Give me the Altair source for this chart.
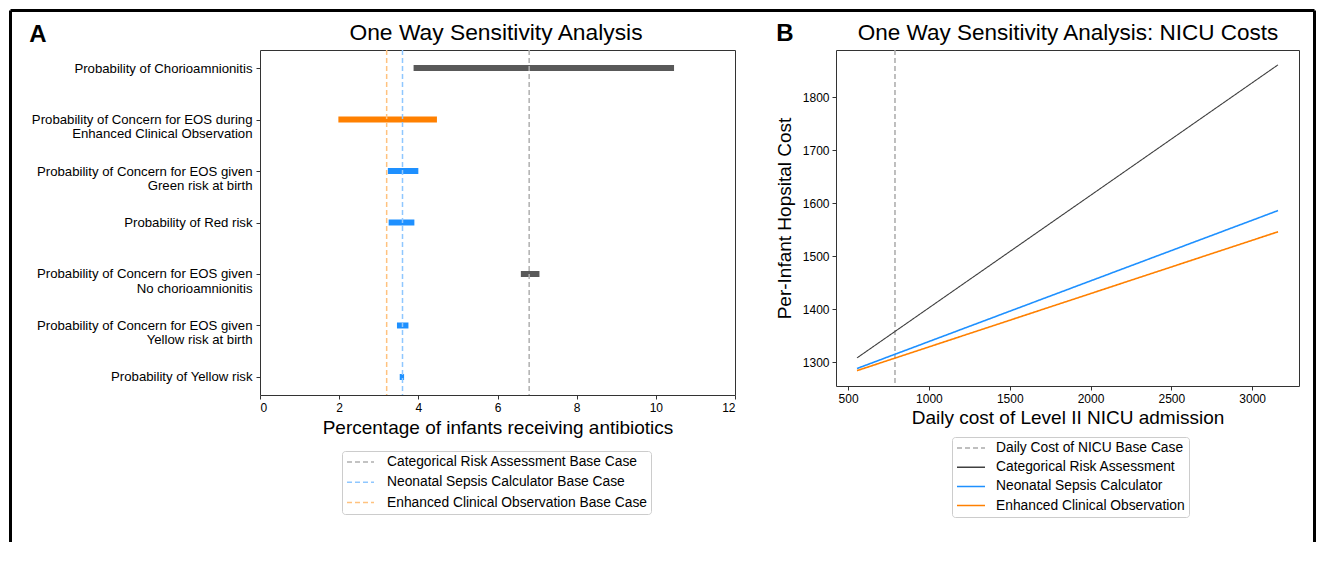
import altair as alt
import pandas as pd

FONT = "Liberation Sans"

# ---------------- Panel A data ----------------
params = [
    "Probability of Chorioamnionitis",
    "Probability of Concern for EOS during|Enhanced Clinical Observation",
    "Probability of Concern for EOS given|Green risk at birth",
    "Probability of Red risk",
    "Probability of Concern for EOS given|No chorioamnionitis",
    "Probability of Concern for EOS given|Yellow risk at birth",
    "Probability of Yellow risk",
]
low = [3.88, 1.98, 3.23, 3.25, 6.59, 3.46, 3.53]
high = [10.46, 4.47, 4.00, 3.90, 7.06, 3.75, 3.64]
bar_colors = ["#595959", "#ff8000", "#1e90ff", "#1e90ff", "#595959", "#1e90ff", "#1e90ff"]

base_cases = [
    "Categorical Risk Assessment Base Case",
    "Neonatal Sepsis Calculator Base Case",
    "Enhanced Clinical Observation Base Case",
]
base_values = [6.8, 3.6, 3.2]
base_colors = ["#b0b0b0", "#8fc7ff", "#ffc27f"]

x_ticks_a = [0, 2, 4, 6, 8, 10, 12]
title_a = "One Way Sensitivity Analysis"
xtitle_a = "Percentage of infants receiving antibiotics"

# ---------------- Panel B data ----------------
cost_x = [555, 3160]
series_b = ["Categorical Risk Assessment", "Neonatal Sepsis Calculator", "Enhanced Clinical Observation"]
cra_cost = [1308, 1861]
nsc_cost = [1288, 1586]
eco_cost = [1284, 1546]
base_cost_label = "Daily Cost of NICU Base Case"
base_cost = [790]
legend_b = [base_cost_label] + series_b
legend_b_colors = ["#aaaaaa", "#404040", "#1e90ff", "#ff8000"]
legend_b_dash = [[5, 3], [1, 0], [1, 0], [1, 0]]
line_widths = [1.1, 1.6, 1.6]
x_ticks_b = [500, 1000, 1500, 2000, 2500, 3000]
y_ticks_b = [1300, 1400, 1500, 1600, 1700, 1800]
title_b = "One Way Sensitivity Analysis: NICU Costs"
xtitle_b = "Daily cost of Level II NICU admission"
ytitle_b = "Per-Infant Hopsital Cost"

# ---------------- tables ----------------
df_bars = pd.DataFrame({"param": params, "low": low, "high": high, "col": bar_colors})
df_base = pd.DataFrame({"case": base_cases, "value": base_values})

rows = []
for name, vals, w in zip(series_b, [cra_cost, nsc_cost, eco_cost], line_widths):
    for cx, cy in zip(cost_x, vals):
        rows.append({"series": name, "cost": cx, "value": cy, "w": w})
df_lines = pd.DataFrame(rows)
df_bcost = pd.DataFrame({"series": [base_cost_label] * len(base_cost), "cost": base_cost})

one = pd.DataFrame({"k": [0]})

WA, HA = 475, 345
WB, HB = 463, 336
GAP = 101          # distance between the two plot areas
FR_L, FR_T, FR_B = -249.5, -39.5, 492   # outer frame (relative to panel A plot area)
FR_R = 1054.5


def frame_rule(x, y, x2=None, y2=None):
    enc = {"x": alt.value(x), "y": alt.value(y)}
    if x2 is not None:
        enc["x2"] = alt.value(x2)
    if y2 is not None:
        enc["y2"] = alt.value(y2)
    return alt.Chart(one).mark_rule(color="black", strokeWidth=3, strokeCap="butt").encode(**enc)


def text_mark(txt, x, y, size, weight="normal"):
    return alt.Chart(pd.DataFrame({"t": [txt]})).mark_text(
        font=FONT, fontSize=size, fontWeight=weight, color="black",
        align="center", baseline="alphabetic"
    ).encode(text="t:N", x=alt.value(x), y=alt.value(y))


# ---------------- Panel A ----------------
yA = alt.Y(
    "param:N", sort=params,
    scale=alt.Scale(type="point", padding=0.35),
    axis=alt.Axis(title=None, labelExpr="split(datum.label, '|')", labelFontSize=13.2,
                  labelLineHeight=14.3, tickSize=4, labelPadding=4, domain=False, grid=False,
                  labelLimit=400),
)
xA_axis = alt.Axis(values=x_ticks_a, title=xtitle_a, titleFontSize=19, titlePadding=5,
                   labelFontSize=12, tickSize=4, labelPadding=3, domain=False, grid=False)

bars = alt.Chart(df_bars).mark_bar(size=6).encode(
    y=yA,
    x=alt.X("low:Q", scale=alt.Scale(domain=[0, 12], nice=False), axis=xA_axis),
    x2="high:Q",
    fill=alt.Fill("col:N", scale=None),
)

base_rules = alt.Chart(df_base).mark_rule(strokeWidth=1.5, strokeDash=[5, 3]).encode(
    x=alt.X("value:Q", title=xtitle_a),
    color=alt.Color(
        "case:N",
        scale=alt.Scale(domain=base_cases, range=base_colors),
        legend=alt.Legend(
            orient="none", legendX=82, legendY=401, title=None, symbolType="stroke",
            symbolDash=[5, 3], symbolStrokeWidth=1.5, symbolSize=729, clipHeight=14,
            rowPadding=6.3, padding=4, labelOffset=12, labelFontSize=13.8, labelLimit=500,
            strokeColor="#cccccc", cornerRadius=3, fillColor="white",
        ),
    ),
)

panel_a = alt.layer(
    bars, base_rules,
    text_mark(title_a, 236, -10, 22.8),
    text_mark("A", -222, -8, 24, "bold"),
    frame_rule(FR_L, FR_T, y2=FR_B),
    frame_rule(FR_L, FR_T, x2=FR_R),
    frame_rule(FR_R, FR_T, y2=FR_B),
).properties(width=WA, height=HA)

# ---------------- Panel B ----------------
shared_legend = alt.Legend(
    orient="none", legendX=116, legendY=387, title=None, symbolType="stroke",
    symbolStrokeWidth=1.5, symbolSize=784, clipHeight=14, rowPadding=5.2, padding=4,
    labelOffset=10, labelFontSize=13.8, labelLimit=500, strokeColor="#cccccc",
    cornerRadius=3, fillColor="white",
)
colB = alt.Color("series:N", scale=alt.Scale(domain=legend_b, range=legend_b_colors), legend=shared_legend)
dashB = alt.StrokeDash("series:N", scale=alt.Scale(domain=legend_b, range=legend_b_dash), legend=shared_legend)

xB = alt.X("cost:Q", scale=alt.Scale(domain=[425, 3290], nice=False, zero=False),
           axis=alt.Axis(values=x_ticks_b, format="d", title=xtitle_b, titleFontSize=19,
                         titlePadding=4, labelFontSize=12, tickSize=4, labelPadding=3,
                         domain=False, grid=False))

lines = alt.Chart(df_lines).mark_line().encode(
    x=xB,
    y=alt.Y("value:Q", scale=alt.Scale(domain=[1255, 1889], nice=False, zero=False),
            axis=alt.Axis(values=y_ticks_b, format="d", title=ytitle_b, titleFontSize=19,
                          titlePadding=8, labelFontSize=12, tickSize=4, labelPadding=3,
                          domain=False, grid=False)),
    color=colB,
    strokeDash=dashB,
    strokeWidth=alt.StrokeWidth("w:Q", scale=None),
    detail="series:N",
)

base_line = alt.Chart(df_bcost).mark_rule(strokeWidth=1.5).encode(
    x=alt.X("cost:Q", title=xtitle_b),
    color=colB,
    strokeDash=dashB,
)

panel_b = alt.layer(
    base_line, lines,
    text_mark(title_b, 232, -10, 22.5),
    text_mark("B", -51, -9, 24, "bold"),
).properties(width=WB, height=HB)

chart = alt.hconcat(panel_a, panel_b, spacing=GAP, bounds="flush").resolve_scale(
    color="independent", strokeDash="independent", fill="independent",
    x="independent", y="independent",
).resolve_legend(
    color="independent", strokeDash="independent",
).properties(padding=0).configure(
    font=FONT
).configure_axis(
    labelFont=FONT, titleFont=FONT, labelColor="black", titleColor="black",
    titleFontWeight="normal", tickColor="#333333",
).configure_legend(
    labelFont=FONT, labelColor="black",
).configure_view(
    stroke="#333333", strokeWidth=1,
)

chart.save("out.html", embed_options={"renderer": "svg", "actions": False})
